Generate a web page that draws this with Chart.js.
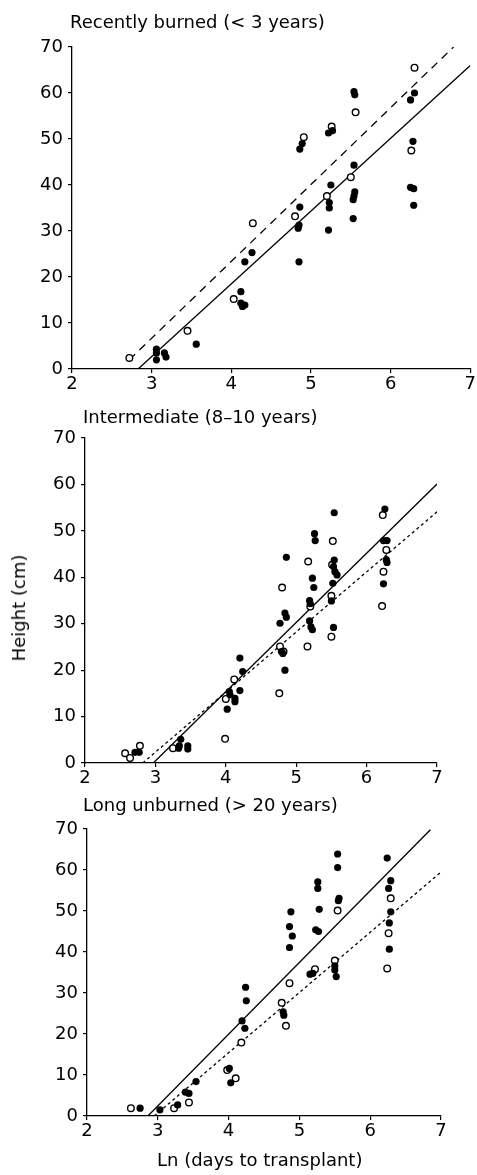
<!DOCTYPE html>
<html>
<head>
<meta charset="utf-8">
<title>Height vs Ln (days to transplant)</title>
<script src="https://cdn.jsdelivr.net/npm/chart.js@4.4.0/dist/chart.umd.min.js"></script>
<style>
    html, body { margin: 0; padding: 0; background: #fff; }
    #page { position: relative; width: 477px; height: 1175px; overflow: hidden; font-family: 'DejaVu Sans', sans-serif; color: #000; }
    canvas { position: absolute; left: 0; }
    .label { position: absolute; font-size: 18px; line-height: 18px; white-space: nowrap; }
    .ytitle { position: absolute; font-size: 18px; line-height: 18px; white-space: nowrap; transform: translate(-50%, -50%) rotate(-90deg); }
</style>
</head>
<body>
<div id="page">
    <canvas id="recentChart" width="477" height="400" style="top:0px"></canvas>
    <canvas id="midChart" width="477" height="400" style="top:400px"></canvas>
    <canvas id="longChart" width="477" height="350" style="top:800px"></canvas>

    <div class="label" style="left:70px; top:13px">Recently burned (&lt; 3 years)</div>
    <div class="label" style="left:83px; top:408px">Intermediate (8–10 years)</div>
    <div class="label" style="left:83px; top:796px">Long unburned (&gt; 20 years)</div>
    <div class="ytitle" style="left:19px; top:608px">Height (cm)</div>
    <div class="label" style="left:157px; top:1151px">Ln (days to transplant)</div>
</div>
<script>
// axis ticks
const xTicks = [2, 3, 4, 5, 6, 7];
const yTicks = [0, 10, 20, 30, 40, 50, 60, 70];

// Recently burned (< 3 years)
const recentFilled = [
    [3.06, 4.3], [3.06, 3.5], [3.06, 2.0], [3.16, 3.5], [3.18, 2.6], [3.56, 5.4],
    [4.12, 16.8], [4.12, 14.3], [4.17, 13.9], [4.14, 13.6], [4.17, 23.3], [4.26, 25.3],
    [4.84, 30.6], [4.85, 31.3], [4.85, 23.3], [4.86, 35.2], [4.86, 47.8], [4.89, 49.0],
    [5.22, 51.3], [5.27, 51.8], [5.25, 40.0], [5.23, 36.2], [5.23, 35.0], [5.22, 30.2],
    [5.54, 60.3], [5.55, 59.6], [5.55, 38.5], [5.54, 37.6], [5.53, 36.8], [5.53, 32.7], [5.54, 44.3],
    [6.25, 58.5], [6.30, 60.0], [6.28, 49.5], [6.25, 39.5], [6.29, 39.2], [6.29, 35.6]
];
const recentOpen = [
    [2.72, 2.4], [3.45, 8.3], [4.03, 15.2], [4.27, 31.7], [4.80, 33.2], [4.91, 50.4],
    [5.20, 37.6], [5.26, 52.7], [5.50, 41.7], [5.56, 55.8], [6.26, 47.5], [6.30, 65.5]
];
const recentSolidFit = [[2.83, 0], [7, 66]];
const recentDashedFit = [[2.72, 2], [6.79, 70]];

// Intermediate (8-10 years)
const midFilled = [
    [2.71, 2.3], [2.77, 2.3], [3.33, 3.2], [3.34, 3.7], [3.36, 5.1], [3.46, 3.7], [3.46, 3.0],
    [4.02, 11.6], [4.05, 15.4], [4.06, 14.7], [4.13, 13.9], [4.13, 13.2], [4.20, 15.6], [4.20, 22.6], [4.24, 19.7],
    [4.77, 30.1], [4.79, 24.0], [4.81, 23.6], [4.84, 20.0], [4.84, 32.3], [4.86, 31.4], [4.86, 44.3],
    [5.19, 35.0], [5.20, 34.3], [5.19, 30.6], [5.21, 29.3], [5.23, 28.7], [5.23, 39.8], [5.25, 37.8], [5.26, 49.4], [5.27, 47.9],
    [5.50, 34.9], [5.52, 38.7], [5.53, 29.2], [5.53, 42.3], [5.54, 43.7], [5.55, 41.2], [5.58, 40.5], [5.54, 53.9],
    [6.24, 47.9], [6.29, 47.9], [6.28, 43.8], [6.29, 43.2], [6.24, 38.6], [6.26, 54.7]
];
const midOpen = [
    [2.57, 2.1], [2.64, 1.1], [2.78, 3.7], [3.25, 3.2], [3.99, 5.2], [4.00, 13.8], [4.12, 18.0],
    [4.76, 15.0], [4.77, 25.1], [4.82, 24.0], [4.80, 37.8], [5.16, 25.1], [5.17, 43.4], [5.20, 33.7],
    [5.50, 27.2], [5.50, 36.0], [5.51, 42.7], [5.52, 47.8], [6.22, 33.8], [6.24, 41.2], [6.28, 45.9], [6.23, 53.4]
];
const midSolidFit = [[2.97, 0], [7, 60.1]];
const midDottedFit = [[2.82, 0], [7, 54.1]];

// Long unburned (> 20 years)
const longFilled = [
    [2.75, 1.9], [3.03, 1.5], [3.28, 2.7], [3.39, 5.8], [3.44, 5.5], [3.54, 8.4],
    [4.01, 11.6], [4.03, 8.1], [4.19, 23.2], [4.23, 21.4], [4.24, 31.4], [4.25, 28.1],
    [4.77, 25.4], [4.78, 24.6], [4.86, 41.1], [4.86, 46.2], [4.88, 49.8], [4.90, 43.9],
    [5.15, 34.6], [5.19, 34.8], [5.23, 45.4], [5.27, 45.0], [5.28, 50.4], [5.26, 55.5], [5.26, 57.1],
    [5.50, 36.6], [5.50, 35.6], [5.52, 34.0], [5.55, 52.5], [5.56, 53.1], [5.54, 60.6], [5.54, 63.9],
    [6.24, 62.9], [6.29, 57.4], [6.26, 55.5], [6.29, 49.8], [6.27, 47.1], [6.27, 40.7]
];
const longOpen = [
    [2.62, 1.9], [3.23, 1.9], [3.44, 3.3], [3.98, 11.2], [4.10, 9.2], [4.18, 17.9],
    [4.75, 27.6], [4.81, 22.0], [4.86, 32.4], [5.22, 35.8], [5.50, 37.9], [5.54, 50.1],
    [6.24, 36.0], [6.26, 44.6], [6.29, 53.1]
];
const longSolidFit = [[2.86, 0], [6.85, 69.8]];
const longDottedFit = [[2.95, 0], [7, 59.5]];

const FONT = { family: "'DejaVu Sans', sans-serif", size: 18 };

function toXY(pairs) {
    return pairs.map(p => ({ x: p[0], y: p[1] }));
}

// layout: where the plot area sits inside its canvas
function makePanel(canvasId, filled, open, solidFit, brokenFit, dash, box) {
    const ctx = document.getElementById(canvasId).getContext('2d');
    return new Chart(ctx, {
        type: 'scatter',
        data: {
            datasets: [
                {
                    data: toXY(filled),
                    pointRadius: 3.6,
                    pointBackgroundColor: '#000',
                    pointBorderColor: '#000',
                    pointBorderWidth: 0
                },
                {
                    data: toXY(open),
                    pointRadius: 3.3,
                    pointBackgroundColor: '#fff',
                    pointBorderColor: '#000',
                    pointBorderWidth: 1.4
                },
                {
                    data: toXY(solidFit),
                    showLine: true,
                    borderColor: '#000',
                    borderWidth: 1.3,
                    pointRadius: 0
                },
                {
                    data: toXY(brokenFit),
                    showLine: true,
                    borderColor: '#000',
                    borderWidth: 1.3,
                    borderDash: dash,
                    pointRadius: 0
                }
            ]
        },
        options: {
            responsive: false,
            animation: false,
            events: [],
            layout: {
                padding: { left: 0, top: box.top, right: box.right, bottom: box.bottom }
            },
            scales: {
                x: {
                    type: 'linear',
                    min: 2,
                    max: 7,
                    afterBuildTicks: scale => { scale.ticks = xTicks.map(v => ({ value: v })); },
                    afterFit: scale => { scale.height = 25; },
                    ticks: { font: FONT, color: '#000', padding: 1, maxRotation: 0 },
                    grid: { drawOnChartArea: false, drawTicks: true, tickLength: 4, color: '#000', lineWidth: 1.2 },
                    border: { display: true, color: '#000', width: 1.3 }
                },
                y: {
                    type: 'linear',
                    min: 0,
                    max: 70,
                    afterBuildTicks: scale => { scale.ticks = yTicks.map(v => ({ value: v })); },
                    afterFit: scale => { scale.width = box.left; },
                    ticks: { font: FONT, color: '#000', padding: 5 },
                    grid: { drawOnChartArea: false, drawTicks: true, tickLength: 4, color: '#000', lineWidth: 1.2 },
                    border: { display: true, color: '#000', width: 1.3 }
                }
            },
            plugins: {
                legend: { display: false },
                tooltip: { enabled: false },
                title: { display: false }
            }
        }
    });
}

makePanel('recentChart', recentFilled, recentOpen, recentSolidFit, recentDashedFit, [8, 6],
    { left: 72, top: 47, right: 5, bottom: 6 });
makePanel('midChart', midFilled, midOpen, midSolidFit, midDottedFit, [3, 3],
    { left: 85, top: 38, right: 40, bottom: 12 });
makePanel('longChart', longFilled, longOpen, longSolidFit, longDottedFit, [3, 3],
    { left: 87, top: 29, right: 36, bottom: 9 });
</script>
</body>
</html>
